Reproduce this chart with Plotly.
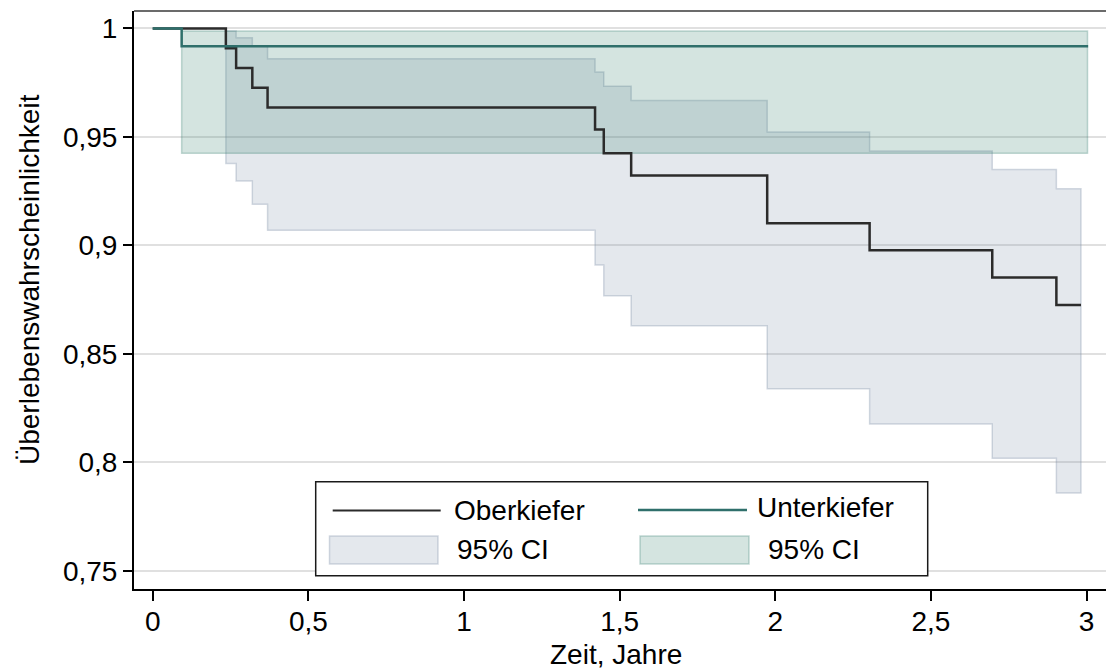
import plotly.graph_objects as go

# Kaplan-Meier survival estimates, Oberkiefer (maxilla)
ober_time = [0.0, 0.235, 0.268, 0.320, 0.369, 1.421, 1.449, 1.537, 1.974, 2.303, 2.697, 2.903]
ober_surv = [1.0, 0.9909, 0.9818, 0.9727, 0.9636, 0.9535, 0.9425, 0.9323, 0.9102, 0.8978, 0.8852, 0.8726]
ober_end = 2.982
ober_ci_time = [0.235, 0.268, 0.320, 0.369, 1.421, 1.449, 1.537, 1.974, 2.303, 2.697, 2.903]
ober_ci_upper = [0.9988, 0.9957, 0.9918, 0.9860, 0.9800, 0.9734, 0.9668, 0.9523, 0.9435, 0.9350, 0.9262]
ober_ci_lower = [0.9378, 0.9297, 0.9190, 0.9070, 0.8910, 0.8768, 0.8630, 0.8340, 0.8177, 0.8019, 0.7859]

# Kaplan-Meier survival estimates, Unterkiefer (mandible)
unter_time = [0.0, 0.093]
unter_surv = [1.0, 0.9918]
unter_end = 3.005
unter_ci_time = [0.093]
unter_ci_upper = [0.9988]
unter_ci_lower = [0.9425]

x_ticks = [0, 0.5, 1, 1.5, 2, 2.5, 3]
x_tick_labels = ["0", "0,5", "1", "1,5", "2", "2,5", "3"]
y_ticks = [0.75, 0.8, 0.85, 0.9, 0.95, 1.0]
y_tick_labels = ["0,75", "0,8", "0,85", "0,9", "0,95", "1"]

W, H = 1106, 671
M_L, M_R, M_T, M_B = 134, 0, 11, 82
FONT = "Liberation Sans, Arial, Helvetica, sans-serif"

OBER_LINE = "#2b2b2b"
UNTER_LINE = "#2f6f6b"
OBER_FILL = "rgba(120,140,165,0.20)"
OBER_EDGE = "rgba(120,140,165,0.32)"
UNTER_FILL = "rgba(60,130,115,0.22)"
UNTER_EDGE = "rgba(60,130,115,0.30)"


def band_path(t, upper, lower, t_end):
    """Closed step polygon between the upper and lower confidence limits."""
    edges = list(t[1:]) + [t_end]
    xs, ys = [], []
    for a, b, u in zip(t, edges, upper):
        xs += [a, b]
        ys += [u, u]
    for a, b, lo in reversed(list(zip(t, edges, lower))):
        xs += [b, a]
        ys += [lo, lo]
    xs.append(xs[0])
    ys.append(ys[0])
    return xs, ys


def px_x(px):
    return (px - M_L) / (W - M_L - M_R)


def px_y(py):
    return (H - M_B - py) / (H - M_T - M_B)


fig = go.Figure()

bx, by = band_path(ober_ci_time, ober_ci_upper, ober_ci_lower, ober_end)
fig.add_trace(go.Scatter(x=bx, y=by, mode="lines", fill="toself", fillcolor=OBER_FILL,
                         line=dict(color=OBER_EDGE, width=1.5), hoverinfo="skip", showlegend=False))

bx, by = band_path(unter_ci_time, unter_ci_upper, unter_ci_lower, unter_end - 0.002)
fig.add_trace(go.Scatter(x=bx, y=by, mode="lines", fill="toself", fillcolor=UNTER_FILL,
                         line=dict(color=UNTER_EDGE, width=1.5), hoverinfo="skip", showlegend=False))

fig.add_trace(go.Scatter(x=ober_time + [ober_end], y=ober_surv + [ober_surv[-1]],
                         mode="lines", line=dict(color=OBER_LINE, width=2.5, shape="hv"),
                         name="Oberkiefer", showlegend=False))
fig.add_trace(go.Scatter(x=unter_time + [unter_end], y=unter_surv + [unter_surv[-1]],
                         mode="lines", line=dict(color=UNTER_LINE, width=2.5, shape="hv"),
                         name="Unterkiefer", showlegend=False))

shapes = []
annotations = []

# frame line along the top of the plot region
shapes.append(dict(type="line", xref="paper", yref="paper", x0=0, x1=1, y0=1, y1=1,
                   line=dict(color="#3a3a3a", width=1.5)))

# legend box with keys
shapes.append(dict(type="rect", xref="paper", yref="paper",
                   x0=px_x(315.7), x1=px_x(927.7), y0=px_y(575.7), y1=px_y(481.7),
                   line=dict(color="#1a1a1a", width=1.5), fillcolor="white", layer="above"))
shapes.append(dict(type="line", xref="paper", yref="paper",
                   x0=px_x(332.7), x1=px_x(440.7), y0=px_y(510.5), y1=px_y(510.5),
                   line=dict(color=OBER_LINE, width=2), layer="above"))
shapes.append(dict(type="line", xref="paper", yref="paper",
                   x0=px_x(638), x1=px_x(747), y0=px_y(510), y1=px_y(510),
                   line=dict(color=UNTER_LINE, width=2.5), layer="above"))
shapes.append(dict(type="rect", xref="paper", yref="paper",
                   x0=px_x(329.5), x1=px_x(438), y0=px_y(564), y1=px_y(536),
                   line=dict(color=OBER_EDGE, width=1.5), fillcolor=OBER_FILL, layer="above"))
shapes.append(dict(type="rect", xref="paper", yref="paper",
                   x0=px_x(640), x1=px_x(749), y0=px_y(564), y1=px_y(536),
                   line=dict(color=UNTER_EDGE, width=1.5), fillcolor=UNTER_FILL, layer="above"))

legend_texts = [
    ("Oberkiefer", 452, 510),
    ("Unterkiefer", 755, 507),
    ("95% CI", 455, 549),
    ("95% CI", 766, 549),
]
for txt, lx, ly in legend_texts:
    annotations.append(dict(text=txt, xref="paper", yref="paper", x=px_x(lx), y=px_y(ly),
                            xanchor="left", yanchor="middle", showarrow=False,
                            font=dict(family=FONT, size=28, color="black")))

annotations.append(dict(text="Überlebenswahrscheinlichkeit", xref="paper", yref="paper",
                        x=px_x(29), y=px_y(280), textangle=-90, xanchor="center",
                        yanchor="middle", showarrow=False,
                        font=dict(family=FONT, size=28, color="black")))
annotations.append(dict(text="Zeit, Jahre", xref="paper", yref="paper",
                        x=px_x(616), y=px_y(654), xanchor="center", yanchor="middle",
                        showarrow=False, font=dict(family=FONT, size=28, color="black")))

fig.update_layout(
    width=W, height=H,
    margin=dict(l=M_L, r=M_R, t=M_T, b=M_B, pad=0),
    paper_bgcolor="white", plot_bgcolor="white",
    font=dict(family=FONT, size=28, color="black"),
    showlegend=False,
    shapes=shapes, annotations=annotations,
    xaxis=dict(range=[-0.0601, 3.0624], tickvals=x_ticks, ticktext=x_tick_labels,
               showgrid=False, zeroline=False, showline=True, linecolor="black", linewidth=2,
               ticks="outside", ticklen=10, tickwidth=1.5, tickcolor="black",
               ticklabelstandoff=-4,
               tickfont=dict(family=FONT, size=28, color="black")),
    yaxis=dict(range=[0.7417, 1.00806], tickvals=y_ticks, ticktext=y_tick_labels,
               showgrid=True, gridcolor="#e0e0e0", gridwidth=1.5, zeroline=False,
               showline=True, linecolor="black", linewidth=2,
               ticks="outside", ticklen=9, tickwidth=1.5, tickcolor="black",
               tickfont=dict(family=FONT, size=28, color="black")),
)

fig.write_html("out.html")
